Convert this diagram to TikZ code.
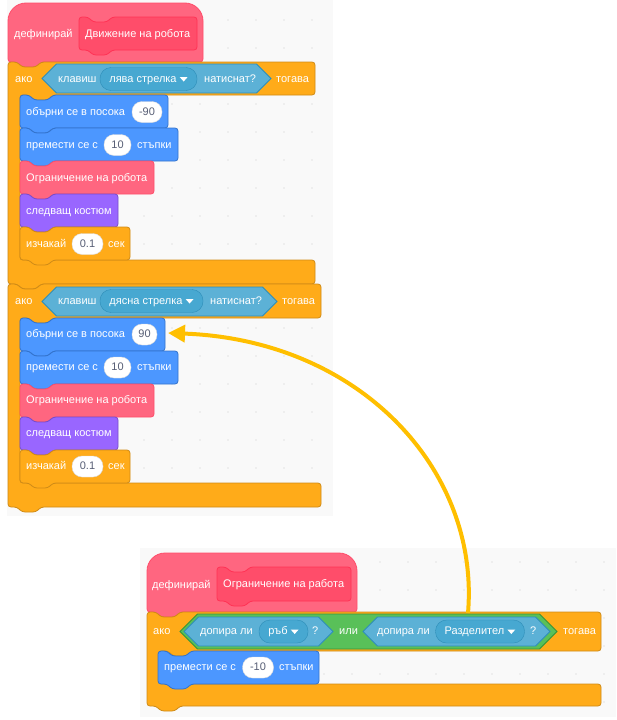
\documentclass[tikz,border=0pt]{standalone}
\usepackage{fontspec}
\setmainfont{Liberation Sans}
\usepackage{tikz}
\usetikzlibrary{arrows.meta}

\definecolor{motion}{HTML}{4C97FF}
\definecolor{motionB}{HTML}{3373CC}
\definecolor{ctrl}{HTML}{FFAB19}
\definecolor{ctrlB}{HTML}{CF8B17}
\definecolor{looks}{HTML}{9966FF}
\definecolor{looksB}{HTML}{774DCB}
\definecolor{myblk}{HTML}{FF6680}
\definecolor{myblkB}{HTML}{FF4D6A}
\definecolor{proto}{HTML}{FF4D6A}
\definecolor{protoB}{HTML}{FF3355}
\definecolor{sense}{HTML}{5CB1D6}
\definecolor{senseB}{HTML}{2E8EB8}
\definecolor{senseD}{HTML}{47A8D1}
\definecolor{oper}{HTML}{59C059}
\definecolor{operB}{HTML}{389438}
\definecolor{inputtxt}{HTML}{575E75}
\definecolor{canvas}{HTML}{F9F9F9}
\definecolor{gridc}{HTML}{E4E4E4}
\definecolor{arrowc}{HTML}{FFBF00}

\newcommand\blockfont{\fontsize{11}{13}\selectfont}
\newcommand\ddtri{\tikz[baseline=-5pt,x=1pt,y=1pt,sharp corners]\fill[white] (0,0) -- (8,0) -- (4,-4.5) -- cycle;}

% fill, line, x, y, w, h
\newcommand\stackblk[6]{%
  \filldraw[fill=#1,draw=#2,line width=.8pt,rounded corners=3pt]
    (#3,#4+#6) -- (#3,#4) -- (#3+9,#4) -- ++(5,5) -- ++(14,0) -- ++(5,-5)
    -- (#3+#5,#4) -- (#3+#5,#4+#6) -- (#3+33,#4+#6) -- ++(-5,5) -- ++(-14,0)
    -- ++(-5,-5) -- cycle;}
\newcommand\hatblk[6]{%
  \filldraw[fill=#1,draw=#2,line width=.8pt]
    (#3,#4+#6) [rounded corners=18pt] -- (#3,#4) -- (#3+#5,#4)
    [rounded corners=3pt] -- (#3+#5,#4+#6) -- (#3+33,#4+#6) -- ++(-5,5) -- ++(-14,0)
    -- ++(-5,-5) -- cycle;}
% x, y, w, top row, inside, bottom arm
\newcommand\ifblk[6]{%
  \filldraw[fill=ctrl,draw=ctrlB,line width=.8pt,rounded corners=3pt]
    (#1,#2) -- (#1+9,#2) -- ++(5,5) -- ++(14,0) -- ++(5,-5) -- (#1+#3,#2)
    -- (#1+#3,#2+#4) -- (#1+45,#2+#4) -- ++(-5,5) -- ++(-14,0) -- ++(-5,-5)
    -- (#1+12,#2+#4) -- (#1+12,#2+#4+#5) -- (#1+#3,#2+#4+#5)
    -- (#1+#3,#2+#4+#5+#6) -- (#1+33,#2+#4+#5+#6) -- ++(-5,5) -- ++(-14,0)
    -- ++(-5,-5) -- (#1,#2+#4+#5+#6) -- cycle;}
% fill, line, x1, x2, top, bottom
\newcommand\boolblk[6]{%
  \filldraw[fill=#1,draw=#2,line width=.8pt]
    (#3,{(#5+#6)/2}) -- ({#3+(#6-#5)/2},#5) -- ({#4-(#6-#5)/2},#5)
    -- (#4,{(#5+#6)/2}) -- ({#4-(#6-#5)/2},#6) -- ({#3+(#6-#5)/2},#6) -- cycle;}

\tikzset{
  lbl/.style={anchor=west,inner sep=0pt,text=white,font=\blockfont,
    text height=8pt,text depth=2pt},
  numin/.style={fill=white,draw=black!15,rounded corners=10pt,minimum height=21pt,
    inner sep=0pt,text=inputtxt,font=\blockfont,text height=8pt,text depth=2pt},
  dropin/.style={fill=senseD,draw=senseB,rounded corners=11pt,minimum height=23pt,
    inner sep=0pt,text=white,font=\blockfont,text height=8pt,text depth=2pt},
  linkarrow/.style={draw=arrowc,line width=4pt,-{Triangle[length=17pt,width=17pt]}}
}

\begin{document}
\begin{tikzpicture}[x=1pt,y=-1pt]
\useasboundingbox (0,0) rectangle (616,720);
% workspaces
\fill[canvas] (7,0) rectangle (333,516);
\fill[canvas] (140,548) rectangle (616,717);
\foreach \x in {32,60,...,312}
  \foreach \y in {20,48,...,496}
    \fill[gridc] (\x,\y) circle[radius=.8];
\foreach \x in {156,184,...,604}
  \foreach \y in {562,590,...,716}
    \fill[gridc] (\x,\y) circle[radius=.8];

% define Движение на робота
\hatblk{myblk}{myblkB}{8}{3}{195}{59}
\stackblk{proto}{protoB}{79}{17}{118}{33}
\node[lbl] (def1) at (14,34) {дефинирай};
\node[lbl] (name1) at (85,34) {Движение на робота};

\ifblk{8}{62}{307}{33}{165}{24}
\boolblk{sense}{senseB}{42}{271}{64}{93}
\node[lbl] (if1) at (15,79) {ако};
\node[lbl] (key1) at (58,79) {клавиш};
\node[dropin,minimum width=97] (key1dd) at (148.5,79) {лява стрелка \ddtri};
\node[lbl] (press1) at (204,79) {натиснат?};
\node[lbl] (then1) at (276,79) {тогава};

\stackblk{motion}{motionB}{20}{95}{148}{33}
\node[lbl] (turn1) at (26,112) {обърни се в посока};
\node[numin,minimum width=30] (turn1val) at (147,112) {-90};
\stackblk{motion}{motionB}{20}{128}{158}{33}
\node[lbl] (move1) at (26,145) {премести се с};
\node[numin,minimum width=27] (move1val) at (117.5,145) {10};
\node[lbl] (steps1) at (137,145) {стъпки};
\stackblk{myblk}{myblkB}{20}{161}{134}{33}
\node[lbl] (limit1) at (26,178) {Ограничение на робота};
\stackblk{looks}{looksB}{20}{194}{98}{33}
\node[lbl] (cost1) at (26,211) {следващ костюм};
\stackblk{ctrl}{ctrlB}{20}{227}{110}{33}
\node[lbl] (wait1) at (26,244) {изчакай};
\node[numin,minimum width=31] (wait1val) at (87.5,244) {0.1};
\node[lbl] (sec1) at (108,244) {сек};

\ifblk{8}{284}{313}{34}{165}{24}
\boolblk{sense}{senseB}{42}{277}{287}{316}
\node[lbl] (if2) at (15,301) {ако};
\node[lbl] (key2) at (58,301) {клавиш};
\node[dropin,minimum width=103] (key2dd) at (151.5,301) {дясна стрелка \ddtri};
\node[lbl] (press2) at (210,301) {натиснат?};
\node[lbl] (then2) at (282,301) {тогава};

\stackblk{motion}{motionB}{20}{318}{145}{33}
\node[lbl] (turn2) at (26,334.5) {обърни се в посока};
\node[numin,minimum width=25] (turn2val) at (144.5,334.5) {90};
\stackblk{motion}{motionB}{20}{351}{158}{33}
\node[lbl] (move2) at (26,367.5) {премести се с};
\node[numin,minimum width=27] (move2val) at (117.5,367.5) {10};
\node[lbl] (steps2) at (137,367.5) {стъпки};
\stackblk{myblk}{myblkB}{20}{384}{134}{33}
\node[lbl] (limit2) at (26,400.5) {Ограничение на робота};
\stackblk{looks}{looksB}{20}{417}{98}{33}
\node[lbl] (cost2) at (26,433.5) {следващ костюм};
\stackblk{ctrl}{ctrlB}{20}{450}{110}{33}
\node[lbl] (wait2) at (26,466.5) {изчакай};
\node[numin,minimum width=31] (wait2val) at (87.5,466.5) {0.1};
\node[lbl] (sec2) at (108,466.5) {сек};

% define Ограничение на работа
\hatblk{myblk}{myblkB}{147}{553}{210}{59}
\stackblk{proto}{protoB}{217}{567}{134}{34}
\node[lbl] (def2) at (152,585) {дефинирай};
\node[lbl] (name2) at (223,584) {Ограничение на работа};

\ifblk{147}{612}{454}{39}{33}{22}
\boolblk{oper}{operB}{180}{557}{614}{649}
\boolblk{sense}{senseB}{184}{333}{617}{646}
\boolblk{sense}{senseB}{363}{550}{617}{646}
\node[lbl] (if3) at (153,631.5) {ако};
\node[lbl] (touch1) at (200,631.5) {допира ли};
\node[dropin,minimum width=49] (touch1dd) at (283.5,631.5) {ръб \ddtri};
\node[lbl] (ask1) at (312,631.5) {?};
\node[lbl] (or1) at (339,631.5) {или};
\node[lbl] (touch2) at (377,631.5) {допира ли};
\node[dropin,minimum width=89] (touch2dd) at (480,631.5) {Разделител \ddtri};
\node[lbl] (ask2) at (530,631.5) {?};
\node[lbl] (then3) at (563,631.5) {тогава};

\stackblk{motion}{motionB}{158}{651}{161}{33}
\node[lbl] (move3) at (164,667.5) {премести се с};
\node[numin,minimum width=31] (move3val) at (258,667.5) {-10};
\node[lbl] (steps3) at (279,667.5) {стъпки};

% link
\coordinate (orTop) at (468,613);
\coordinate (turn2tip) at (168,333);
\draw[linkarrow] (orTop) .. controls (480,470) and (360,340) .. (turn2tip);
\end{tikzpicture}
\end{document}
